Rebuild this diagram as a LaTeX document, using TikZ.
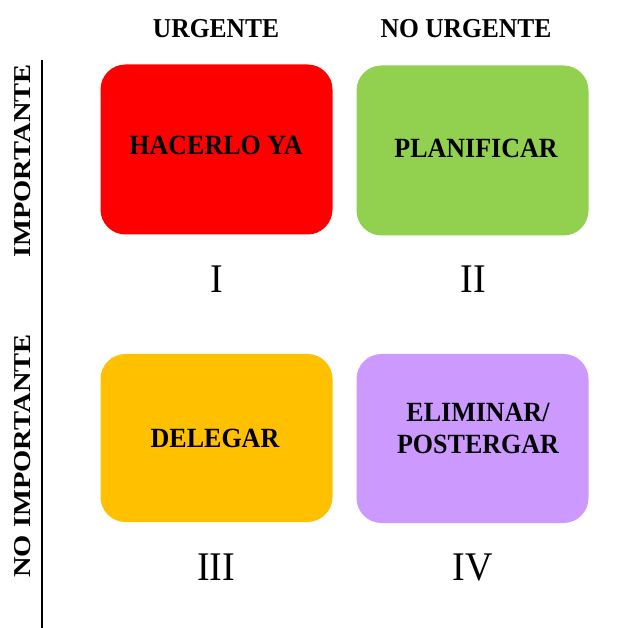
\documentclass[tikz,border=0pt]{standalone}
\usepackage{fontspec}
\usepackage{graphicx}
\setmainfont{Liberation Serif}
\definecolor{qred}{RGB}{255,0,0}
\definecolor{qgreen}{RGB}{146,208,80}
\definecolor{qorange}{RGB}{255,192,0}
\definecolor{qpurple}{RGB}{204,153,255}
% slightly tall lettering
\newcommand{\tallword}[1]{\scalebox{1}[1.07]{#1}}
% lettering drawn a little long, for the side headings
\newcommand{\longword}[1]{\scalebox{1.12}[0.95]{#1}}
\begin{document}
\begin{tikzpicture}[x=1pt,y=-1pt,
  quad/.style={rounded corners=25pt, minimum width=232pt, minimum height=170pt, inner sep=0pt, draw=none},
  head/.style={inner sep=0pt, font=\fontsize{25.5}{30}\selectfont\bfseries},
  boxtext/.style={inner sep=0pt, align=center, font=\fontsize{26}{30}\selectfont\bfseries},
  numeral/.style={inner sep=0pt, font=\fontsize{38}{44}\selectfont}]
\useasboundingbox (0,0) rectangle (643,628);

% quadrants
\node[quad, fill=qred]    (q1) at (216.5,149.5) {};
\node[quad, fill=qgreen]  (q2) at (472.5,150.5) {};
\node[quad, fill=qorange, minimum height=168pt] (q3) at (216.5,438) {};
\node[quad, fill=qpurple, minimum height=169pt] (q4) at (472.5,438.5) {};

% quadrant labels
\node[boxtext] (t1) at (216,145.5) {\tallword{HACERLO YA}};
\node[boxtext] (t2) at (476,148.5) {\tallword{PLANIFICAR}};
\node[boxtext] (t3) at (215,438.5) {\tallword{DELEGAR}};
\node[boxtext] (t4) at (478,431) {\tallword{\begin{tabular}{@{}c@{}}ELIMINAR/\\POSTERGAR\end{tabular}}};

% column headings
\node[head] (h1) at (216,29) {\tallword{URGENTE}};
\node[head] (h2) at (466,29) {\tallword{NO URGENTE}};

% row headings
\node[head, rotate=90] (v1) at (22.5,161) {\longword{IMPORTANTE}};
\node[head, rotate=90] (v2) at (22.5,456) {\longword{NO IMPORTANTE}};

% quadrant numbers
\node[numeral] (n1) at (217,279) {\tallword{I}};
\node[numeral] (n2) at (473,279) {\tallword{II}};
\node[numeral] (n3) at (216,567) {\tallword{III}};
\node[numeral] (n4) at (473,567) {\tallword{IV}};

% vertical axis
\coordinate (axtop) at (42,60);
\coordinate (axbot) at (42,628);
\draw[line width=2pt] (axtop) -- (axbot);
\end{tikzpicture}
\end{document}
